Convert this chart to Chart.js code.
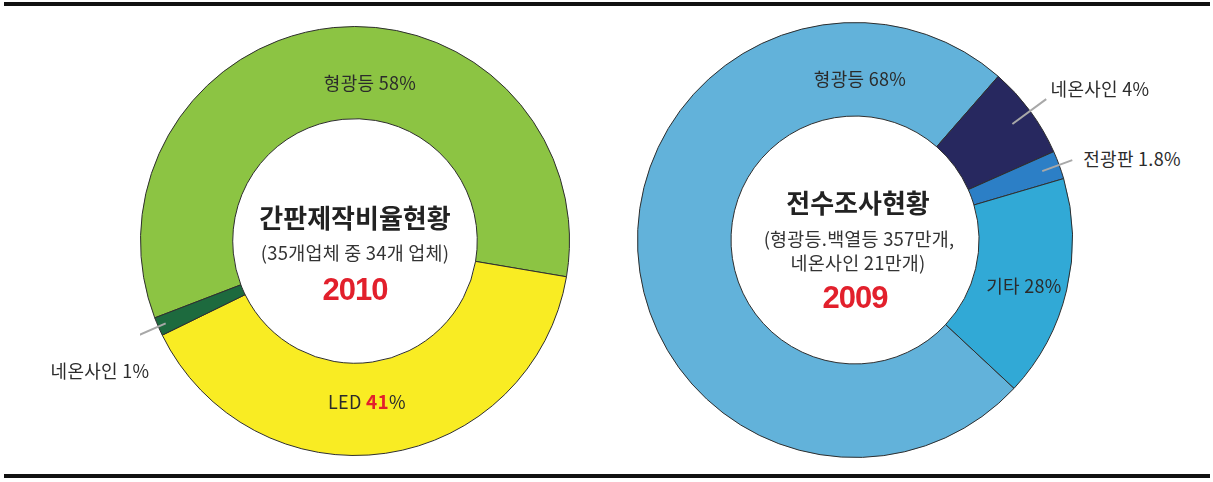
<!DOCTYPE html>
<html>
<head>
<meta charset="utf-8">
<script src="https://cdn.jsdelivr.net/npm/chart.js@4"></script>
<style>
body{margin:0;background:#fff;width:1213px;height:482px;position:relative;overflow:hidden;font-family:"Noto Sans CJK KR","Noto Sans",sans-serif;color:#2b2b2b}
.rule{position:absolute;left:4px;width:1206px;height:4px;background:#111}
canvas{position:absolute}
.lbl{position:absolute;transform:translate(-50%,-50%);white-space:nowrap;font-size:18px;line-height:1;letter-spacing:0.3px}
.title{font-weight:bold;font-size:26px;color:#222;letter-spacing:0}
.sub{font-size:18.5px;color:#333;letter-spacing:0.2px}
.year{font-family:"Liberation Sans",Arial,sans-serif;font-weight:bold;font-size:31px;color:#e2202c;letter-spacing:-1px}
.red{color:#e2202c;font-weight:bold;font-size:19px}
</style>
</head>
<body>
<div class="rule" style="top:2px"></div>
<div class="rule" style="top:474px"></div>
<canvas id="leftChart" width="430" height="430" style="left:140px;top:26px"></canvas>
<canvas id="rightChart" width="436" height="436" style="left:637px;top:22px"></canvas>

<script>
// 2010 간판제작비율 (slice shares)
const leftNames = ['형광등', 'LED', '네온사인'];
const leftPctText = ['58%', '41%', '1%'];
const leftShares = [58.5, 40.1, 1.4];
const leftColors = ['#8cc443', '#f9ec23', '#1d6a3e'];

// 2009 전수조사 (slice shares)
const rightNames = ['형광등', '네온사인', '전광판', '기타'];
const rightPctText = ['68%', '4%', '1.8%', '28%'];
const rightShares = [74.5, 6.9, 2.1, 16.5];
const rightColors = ['#62b2da', '#27285f', '#2c7fc6', '#31a9d6'];

// leader lines for the small slices: index -> [inner offset, outer offset]
const leaderLines = {
    leftChart: { 2: [-8, 30] },
    rightChart: { 1: [-22, 20], 2: [-18, 14] }
};

const leaderPlugin = {
    id: 'leader',
    afterDraw(chart) {
        const spec = leaderLines[chart.canvas.id];
        if (!spec) return;
        const ctx = chart.ctx;
        const arcs = chart.getDatasetMeta(0).data;
        ctx.save();
        ctx.strokeStyle = '#a8a8a8';
        ctx.lineWidth = 2;
        Object.keys(spec).forEach((i) => {
            const a = arcs[i];
            const mid = (a.startAngle + a.endAngle) / 2;
            const r1 = a.outerRadius + spec[i][0];
            const r2 = a.outerRadius + spec[i][1];
            ctx.beginPath();
            ctx.moveTo(a.x + Math.cos(mid) * r1, a.y + Math.sin(mid) * r1);
            ctx.lineTo(a.x + Math.cos(mid) * r2, a.y + Math.sin(mid) * r2);
            ctx.stroke();
        });
        ctx.restore();
    }
};

function makeDonut(id, names, shares, colors, rotation) {
    new Chart(document.getElementById(id), {
        type: 'doughnut',
        data: {
            labels: names,
            datasets: [{
                data: shares,
                backgroundColor: colors,
                borderColor: '#2e2e2e',
                borderWidth: 1
            }]
        },
        options: {
            responsive: false,
            animation: false,
            cutout: '57%',
            rotation: rotation,
            layout: { padding: 0 },
            plugins: { legend: { display: false }, tooltip: { enabled: false } }
        },
        plugins: [leaderPlugin]
    });
}

makeDonut('leftChart', leftNames, leftShares, leftColors, 249);
makeDonut('rightChart', rightNames, rightShares, rightColors, 133);

// text overlays
function addLabel(html, x, y, cls) {
    const d = document.createElement('div');
    d.className = 'lbl ' + (cls || '');
    d.innerHTML = html;
    d.style.left = x + 'px';
    d.style.top = y + 'px';
    document.body.appendChild(d);
}

addLabel(leftNames[0] + ' ' + leftPctText[0], 370, 82);
addLabel(leftNames[1] + ' <span class="red">' + leftPctText[1].replace('%', '') + '</span>%', 367, 400);
addLabel(leftNames[2] + ' ' + leftPctText[2], 100, 370);
addLabel('간판제작비율현황', 355, 217, 'title');
addLabel('(35개업체 중 34개 업체)', 355, 252, 'sub');
addLabel('2010', 355, 289, 'year');

addLabel(rightNames[0] + ' ' + rightPctText[0], 860, 78);
addLabel(rightNames[1] + ' ' + rightPctText[1], 1100, 88);
addLabel(rightNames[2] + ' ' + rightPctText[2], 1132, 158);
addLabel(rightNames[3] + ' ' + rightPctText[3], 1024, 285);
addLabel('전수조사현황', 858, 202, 'title');
addLabel('(형광등.백열등 357만개,', 859, 238, 'sub');
addLabel('네온사인 21만개)', 858, 262, 'sub');
addLabel('2009', 855, 297, 'year');
</script>
</body>
</html>
